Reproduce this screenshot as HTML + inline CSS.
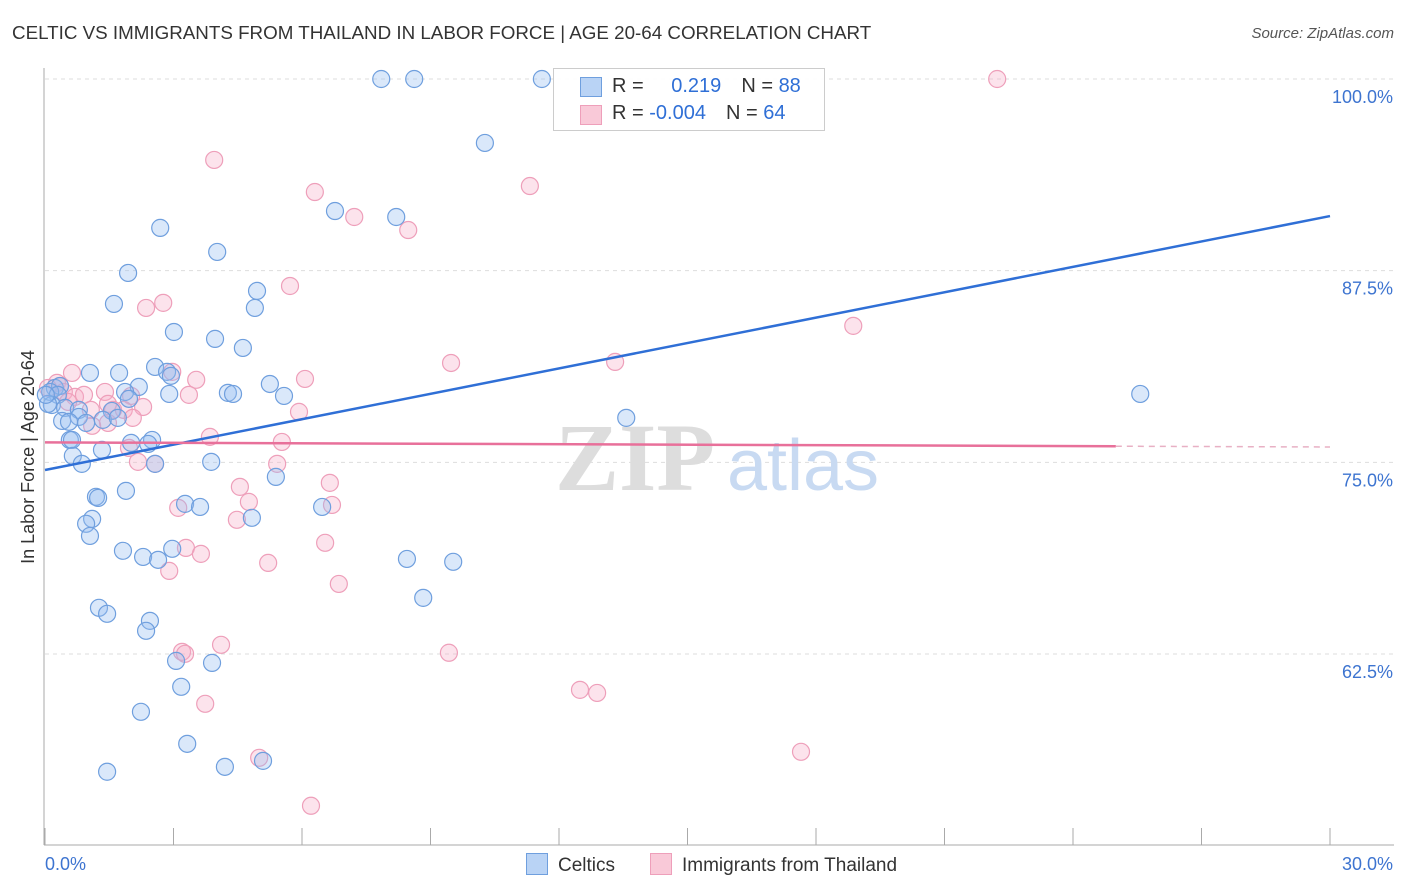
<!DOCTYPE html>
<html><head><meta charset="utf-8">
<style>
body{margin:0;background:#fff;font-family:"Liberation Sans",sans-serif;}
#wrap{position:relative;width:1406px;height:892px;overflow:hidden;}
.t{position:absolute;white-space:nowrap;}
</style></head><body>
<div id="wrap">
<div class="t" style="left:12px;top:22px;font-size:18.8px;color:#333;">CELTIC VS IMMIGRANTS FROM THAILAND IN LABOR FORCE | AGE 20-64 CORRELATION CHART</div>
<div class="t" style="right:12px;top:25px;font-size:15px;color:#555;font-style:italic;">Source: ZipAtlas.com</div>
<svg id="svg" width="1406" height="892" style="position:absolute;left:0;top:0"></svg>
</div>
<script>
const xTicks=[0,3,6,9,12,15,18,21,24,27,30];
const yTicks=[100,87.5,75,62.5];
const yTickLabels=["100.0%","87.5%","75.0%","62.5%"];
const celticX=[7.85,8.62,11.60,10.27,6.77,8.20,2.69,4.02,1.94,4.95,1.61,4.90,3.01,3.97,4.62,2.57,2.85,2.94,1.05,1.73,2.19,5.25,4.27,4.39,5.58,2.90,1.87,1.96,0.23,0.35,0.12,0.30,0.16,0.47,0.79,1.56,0.79,0.40,0.56,0.96,1.35,1.70,0.58,0.63,2.50,2.41,2.01,1.33,0.65,0.86,2.57,3.88,5.39,1.89,1.19,1.24,3.27,3.62,6.47,4.83,1.10,0.96,1.05,1.82,2.29,2.64,2.97,8.45,9.53,8.83,1.26,1.45,2.45,2.36,3.06,3.90,3.18,2.24,3.32,1.45,4.20,5.09,13.57,25.57,0.07,0.02];
const celticY=[100,100,100,95.83,91.39,91.0,90.29,88.72,87.35,86.18,85.33,85.07,83.50,83.05,82.46,81.22,80.90,80.64,80.83,80.83,79.92,80.11,79.53,79.46,79.33,79.46,79.59,79.14,79.85,79.98,79.59,79.40,78.74,78.55,78.42,78.35,77.96,77.70,77.64,77.57,77.77,77.90,76.46,76.46,76.46,76.20,76.27,75.81,75.42,74.90,74.90,75.03,74.05,73.14,72.75,72.68,72.29,72.09,72.09,71.38,71.31,70.99,70.20,69.23,68.83,68.64,69.36,68.70,68.51,66.16,65.51,65.12,64.66,64.01,62.05,61.92,60.36,58.73,56.64,54.82,55.14,55.53,77.90,79.46,78.81,79.40];
const thaiX=[22.23,3.95,11.32,6.30,7.22,8.48,5.72,2.76,2.36,18.87,9.48,13.31,0.63,2.97,3.53,6.07,0.28,0.35,0.07,0.44,1.40,2.01,3.36,0.70,0.91,0.54,1.47,1.59,2.29,1.84,1.07,5.93,2.05,1.47,1.10,3.85,5.53,1.96,2.17,2.57,5.42,4.55,6.65,4.76,3.11,6.70,4.48,6.54,3.29,3.64,5.21,2.90,6.86,3.20,4.11,9.43,12.49,12.89,3.74,5.00,17.65,6.21,3.27];
const thaiY=[100,94.72,93.02,92.63,91.0,90.15,86.50,85.40,85.07,83.90,81.48,81.55,80.83,80.90,80.38,80.44,80.18,79.98,79.85,79.59,79.59,79.33,79.40,79.27,79.40,78.94,78.81,78.42,78.61,78.42,78.42,78.29,77.90,77.57,77.38,76.66,76.33,75.94,75.03,74.90,74.90,73.40,73.66,72.42,72.03,72.22,71.25,69.75,69.42,69.03,68.44,67.92,67.07,62.64,63.10,62.58,60.16,59.96,59.25,55.73,56.12,52.60,62.51];
const celticTrend=[74.5,91.06];
const thaiTrend=[76.3,76.05];
const thaiTrendEnd=25;

const X=v=>45+v/30*1285;
const Y=v=>79+(100-v)*15.333;
const svg=document.getElementById('svg');
const NS='http://www.w3.org/2000/svg';
function mk(tag,attrs){const e=document.createElementNS(NS,tag);for(const k in attrs)e.setAttribute(k,attrs[k]);svg.appendChild(e);return e;}

yTicks.forEach((t,i)=>{
  const g=mk('line',{x1:45,x2:1394,y1:Y(t),y2:Y(t),stroke:'#ddd','stroke-dasharray':'4,4','stroke-width':1});
  
  
  const l=mk('text',{x:1393,y:Y(t)+24,'text-anchor':'end','font-size':18,fill:'#3d74d0','font-family':'Liberation Sans, sans-serif'});
  l.textContent=yTickLabels[i];
  
  
});
const ax=mk('line',{x1:44,x2:44,y1:68,y2:845,stroke:'#aaa'});


const bx=mk('line',{x1:44,x2:1394,y1:845,y2:845,stroke:'#aaa'});


xTicks.forEach(t=>{
  const k=mk('line',{x1:X(t),x2:X(t),y1:828,y2:845,stroke:'#aaa'});
  
  
});
[[0,'0.0%','start',45],[30,'30.0%','end',1393]].forEach(a=>{
  const l=mk('text',{x:a[3],y:870,'text-anchor':a[2],'font-size':18,fill:'#3d74d0','font-family':'Liberation Sans, sans-serif'});
  l.textContent=a[1];
  
  
});
const yt=mk('text',{x:34,y:457,'text-anchor':'middle','font-size':18,fill:'#333',transform:'rotate(-90 34 457)','font-family':'Liberation Sans, sans-serif'});
yt.textContent='In Labor Force | Age 20-64';


const w1=mk('text',{x:635,y:490,'text-anchor':'middle','font-size':96,fill:'#ddd','font-family':'Liberation Serif, serif','font-weight':'bold'});
w1.textContent='ZIP';


const w2=mk('text',{x:803,y:490,'text-anchor':'middle','font-size':72,fill:'#c8daf2','font-family':'Liberation Sans, sans-serif'});
w2.textContent='atlas';



thaiX.forEach((x,i)=>{
  const c=mk('circle',{cx:X(x),cy:Y(thaiY[i]),r:8.5,fill:'rgba(246,175,200,0.35)',stroke:'#ee9fba','stroke-width':1.2});
  
  
});
celticX.forEach((x,i)=>{
  const c=mk('circle',{cx:X(x),cy:Y(celticY[i]),r:8.5,fill:'rgba(150,190,240,0.35)',stroke:'#6f9fde','stroke-width':1.2});
  
  
});
const tl=mk('line',{x1:X(0),y1:Y(celticTrend[0]),x2:X(30),y2:Y(celticTrend[1]),stroke:'#2f6fd6','stroke-width':2.5});


const slope=(thaiTrend[1]-thaiTrend[0])/thaiTrendEnd;
const pl=mk('line',{x1:X(0),y1:Y(thaiTrend[0]),x2:X(thaiTrendEnd),y2:Y(thaiTrend[1]),stroke:'#e8709a','stroke-width':2.5});


const pd=mk('line',{x1:X(thaiTrendEnd),y1:Y(thaiTrend[1]),x2:X(30),y2:Y(thaiTrend[0]+slope*30),stroke:'#e8b0c4','stroke-width':1.5,'stroke-dasharray':'6,5'});


</script>
<div class="t" style="left:553px;top:68px;width:270px;height:61px;border:1px solid #ccc;background:rgba(255,255,255,0.9);font-size:20px;">
  <div style="position:absolute;left:26px;top:8px;width:20px;height:18px;background:#b9d3f5;border:1px solid #6f9fde"></div>
  <div class="t" style="left:58px;top:6px;color:#333">R = <span style="color:#2f6fd6;margin-left:22px">0.219</span><span style="margin-left:20px">N = </span><span style="color:#2f6fd6">88</span></div>
  <div style="position:absolute;left:26px;top:36px;width:20px;height:18px;background:#f9c9d8;border:1px solid #ee9fba"></div>
  <div class="t" style="left:58px;top:33px;color:#333">R = <span style="color:#2f6fd6">-0.004</span><span style="margin-left:20px">N = </span><span style="color:#2f6fd6">64</span></div>
</div>
<div class="t" style="left:526px;top:853px;font-size:19px;color:#333;"><span style="display:inline-block;width:20px;height:20px;background:#b9d3f5;border:1px solid #6f9fde;vertical-align:-4px;margin-right:10px"></span>Celtics</div>
<div class="t" style="left:650px;top:853px;font-size:19px;color:#333;"><span style="display:inline-block;width:20px;height:20px;background:#f9c9d8;border:1px solid #ee9fba;vertical-align:-4px;margin-right:10px"></span>Immigrants from Thailand</div>
</body></html>
